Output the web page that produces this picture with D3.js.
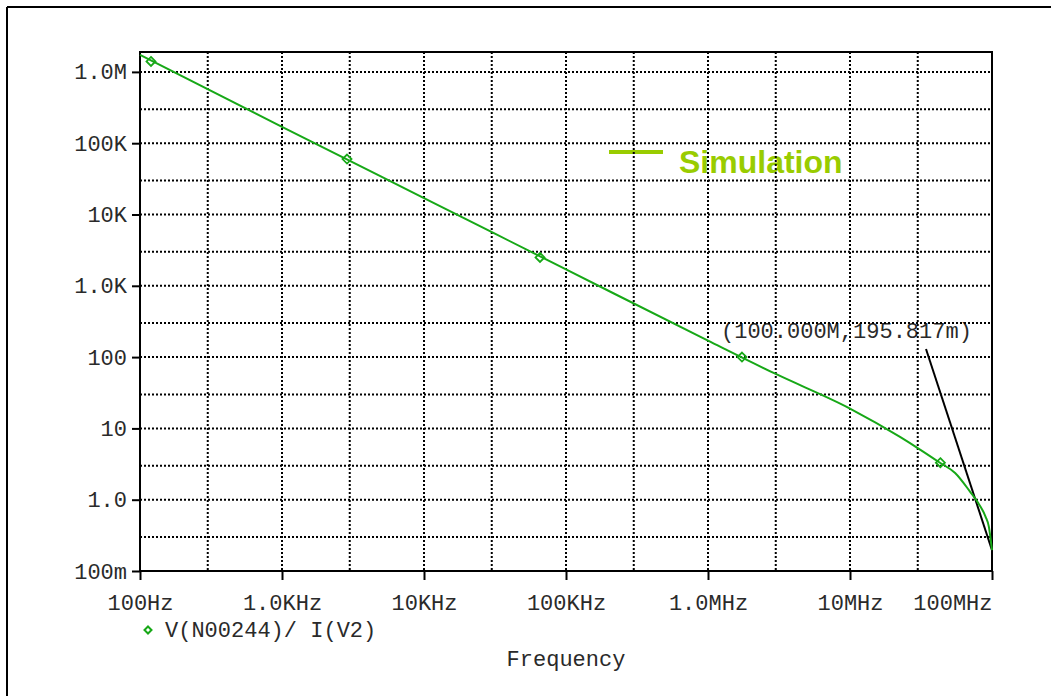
<!DOCTYPE html>
<html>
<head>
<meta charset="utf-8">
<script src="https://cdn.jsdelivr.net/npm/d3@7"></script>
<style>
  html, body { margin: 0; padding: 0; background: #fff; }
  svg { display: block; }
</style>
</head>
<body>
<svg id="chart" width="1051" height="696"></svg>
<script>
// ---- data ----
const freqs  = [100, 1e3, 1e4, 1e5, 1e6, 3e6, 1e7, 2.25e7, 3e7, 4.3e7, 5.5e7, 7e7, 8e7, 9e7, 9.5e7, 1e8];
const values = [1.73e6, 1.7e5, 1.7e4, 1.7e3, 170, 58, 19, 7.6, 5.3, 3.3, 2.37, 1.3, 0.9, 0.58, 0.42, 0.1958];
const markerFreqs  = [119.5, 2870, 65600, 1.735e6, 4.33e7];
const markerValues = [1.4e6, 6.0e4, 2.5e3, 100, 3.3];
const xTicks = [100, 1e3, 1e4, 1e5, 1e6, 1e7, 1e8];
const xTickLabels = ["100Hz", "1.0KHz", "10KHz", "100KHz", "1.0MHz", "10MHz", "100MHz"];
const xMinor = [300, 3e3, 3e4, 3e5, 3e6, 3e7];
const yTicks = [0.1, 1, 10, 100, 1e3, 1e4, 1e5, 1e6];
const yTickLabels = ["100m", "1.0", "10", "100", "1.0K", "10K", "100K", "1.0M"];
const yMinor = [0.3, 3, 30, 300, 3e3, 3e4, 3e5];
const traceName = "V(N00244)/ I(V2)";
const xTitle = "Frequency";
const legendLabel = "Simulation";
const cursorPoint = [1e8, 0.195817];
const cursorLabel = "(100.000M,195.817m)";

// ---- layout ----
const L = 140, R = 992, T = 52, B = 571;
const mono = "'Liberation Mono', 'Courier New', monospace";
const green = "#17a817";
const lime = "#99cc00";
const textCol = "#2a2a2a";

const svg = d3.select("#chart");
const x = d3.scaleLog().domain([100, 1e8]).range([L, R]);
const yTop = Math.pow(10, Math.log10(0.1) + (B - T) / 71.3);
const y = d3.scaleLog().domain([0.1, yTop]).range([B, T]);

// outer frame (top and left visible)
svg.append("line").attr("x1", 7).attr("x2", 1051).attr("y1", 7).attr("y2", 7)
  .attr("stroke", "#000").attr("stroke-width", 2);
svg.append("line").attr("x1", 7).attr("x2", 7).attr("y1", 7).attr("y2", 696)
  .attr("stroke", "#000").attr("stroke-width", 2);

// Simulation legend (under grid)
svg.append("line").attr("x1", 609).attr("x2", 663).attr("y1", 152).attr("y2", 152)
  .attr("stroke", lime).attr("stroke-width", 4);
svg.append("text").attr("x", 679).attr("y", 173)
  .attr("font-family", "'Liberation Sans', Arial, sans-serif")
  .attr("font-weight", "bold").attr("font-size", 32).attr("fill", lime)
  .text(legendLabel);

// cursor annotation text
svg.append("text").attr("x", 721).attr("y", 338)
  .attr("font-family", mono).attr("font-size", 22).attr("fill", textCol)
  .text(cursorLabel);

// grid
const grid = svg.append("g").attr("stroke", "#000").attr("stroke-width", 2)
  .attr("stroke-dasharray", "2,2");
xTicks.slice(1, -1).concat(xMinor).forEach(f => {
  grid.append("line").attr("x1", x(f)).attr("x2", x(f)).attr("y1", T).attr("y2", B);
});
yTicks.slice(1).concat(yMinor).forEach(v => {
  grid.append("line").attr("x1", L).attr("x2", R).attr("y1", y(v)).attr("y2", y(v));
});

// plot frame
svg.append("rect").attr("x", L).attr("y", T).attr("width", R - L).attr("height", B - T)
  .attr("fill", "none").attr("stroke", "#000").attr("stroke-width", 2);

// axes
const xAxis = d3.axisBottom(x).tickValues(xTicks).tickSize(9).tickPadding(14)
  .tickFormat((d, i) => xTickLabels[i]);
const gx = svg.append("g").attr("transform", `translate(0,${B})`).call(xAxis);
gx.select(".domain").remove();
gx.selectAll(".tick line").attr("stroke", "#000").attr("stroke-width", 2);
gx.selectAll(".tick text").attr("font-family", mono).attr("font-size", 22).attr("fill", textCol)
  .attr("dy", "0.71em");
gx.selectAll(".tick").filter((d, i) => i === xTicks.length - 1).select("text")
  .attr("text-anchor", "end");

const yAxis = d3.axisLeft(y).tickValues(yTicks).tickSize(8).tickPadding(5)
  .tickFormat((d, i) => yTickLabels[i]);
const gy = svg.append("g").attr("transform", `translate(${L},0)`).call(yAxis);
gy.select(".domain").remove();
gy.selectAll(".tick line").attr("stroke", "#000").attr("stroke-width", 2);
gy.selectAll(".tick text").attr("font-family", mono).attr("font-size", 22).attr("fill", textCol);

// cursor leader line
svg.append("line").attr("x1", 926).attr("y1", 349)
  .attr("x2", x(cursorPoint[0])).attr("y2", y(cursorPoint[1]))
  .attr("stroke", "#000").attr("stroke-width", 2);

// trace
const pts = freqs.map((f, i) => [f, values[i]]);
svg.append("path").datum(pts)
  .attr("d", d3.line().x(d => x(d[0])).y(d => y(d[1])).curve(d3.curveMonotoneX))
  .attr("fill", "none").attr("stroke", green).attr("stroke-width", 2);

// markers
const diamond = (cx, cy, r) => `M${cx},${cy - r}L${cx + r},${cy}L${cx},${cy + r}L${cx - r},${cy}Z`;
svg.append("g").selectAll("path").data(markerFreqs).join("path")
  .attr("d", (f, i) => diamond(x(f), y(markerValues[i]), 4.5))
  .attr("fill", "none").attr("stroke", green).attr("stroke-width", 1.8);

// trace legend
svg.append("path").attr("d", diamond(148, 630, 3.5))
  .attr("fill", "none").attr("stroke", green).attr("stroke-width", 2);
svg.append("text").attr("x", 165).attr("y", 637)
  .attr("font-family", mono).attr("font-size", 22).attr("fill", textCol)
  .text(traceName);

// x title
svg.append("text").attr("x", (L + R) / 2).attr("y", 666).attr("text-anchor", "middle")
  .attr("font-family", mono).attr("font-size", 22).attr("fill", textCol)
  .text(xTitle);
</script>
</body>
</html>
